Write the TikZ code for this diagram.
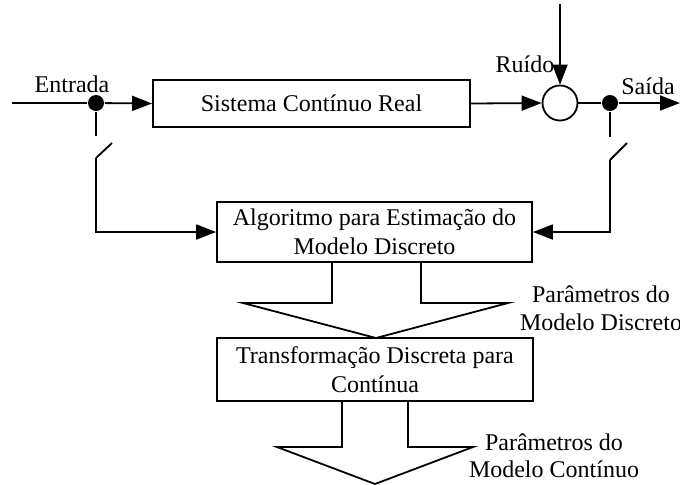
\documentclass[tikz,border=0pt]{standalone}
\usepackage{fontspec}
\setmainfont{Liberation Serif}
\usetikzlibrary{arrows.meta}
\begin{document}
\begin{tikzpicture}[x=0.5pt,y=-0.5pt,line width=0.9pt,
  arr/.style={-{Triangle[length=10pt,width=7.5pt]}},
  txt/.style={font=\fontsize{12}{14.5}\selectfont,inner sep=0pt},
  blk/.style={draw,txt,align=center,inner sep=0pt},
  jdot/.style={circle,fill=black,draw=none,minimum size=8pt,inner sep=0pt},
  sumc/.style={circle,draw,minimum size=17.5pt,inner sep=0pt}]
\useasboundingbox (0,0) rectangle (680,484);

% blocks
\node[blk,minimum width=158.5pt,minimum height=23.5pt] (sys) at (311.5,103.5) {Sistema Contínuo Real};
\node[blk,minimum width=157.5pt,minimum height=30pt] (alg) at (374.5,232) {Algoritmo para Estimação do\\Modelo Discreto};
\node[blk,minimum width=158pt,minimum height=31.5pt] (trf) at (375,369.5) {Transformação Discreta para\\Contínua};
\node[sumc] (sum) at (560,103) {};
\node[jdot] (d1) at (96,103) {};
\node[jdot] (d2) at (610,103) {};

% coordinates
\coordinate (in) at (12,103);
\coordinate (out) at (680,103);
\coordinate (ntop) at (560,4);
\coordinate (s1a) at (96,136);
\coordinate (s1b) at (96,158);
\coordinate (s1c) at (112,143);
\coordinate (s2a) at (610,137);
\coordinate (s2b) at (610,160);
\coordinate (s2c) at (627,143);

% labels
\node[txt,anchor=base] (lin) at (72,92) {Entrada};
\node[txt,anchor=base] (lrd) at (525,72) {Ruído};
\node[txt,anchor=base] (lout) at (648,94) {Saída};
\node[txt,anchor=base] (p1a) at (601,302) {Parâmetros do};
\node[txt,anchor=base] (p1b) at (601,330) {Modelo Discreto};
\node[txt,anchor=base] (p2a) at (554,450) {Parâmetros do};
\node[txt,anchor=base] (p2b) at (554,477) {Modelo Contínuo};

% connectors
\draw (in) -- (d1);
\draw[arr] (d1) -- (sys.west);
\draw[arr] (sys.east) -- (sum.west);
\draw[arr] (ntop) -- (sum.north);
\draw (sum.east) -- (d2);
\draw[arr] (d2) -- (out);
\draw (d1) -- (s1a);
\draw (s1b) -- (s1c);
\draw[arr] (s1b) |- (alg.west);
\draw (d2) -- (s2a);
\draw (s2b) -- (s2c);
\draw[arr] (s2b) |- (alg.east);

% hollow arrows
\draw[line join=miter] (332,262) -- (332,303) -- (243,303) -- (376,338) -- (508,303) -- (421,303) -- (421,262);
\draw[line join=miter] (342,401) -- (342,447) -- (277,447) -- (375,484) -- (473,447) -- (408,447) -- (408,401);
\end{tikzpicture}
\end{document}
